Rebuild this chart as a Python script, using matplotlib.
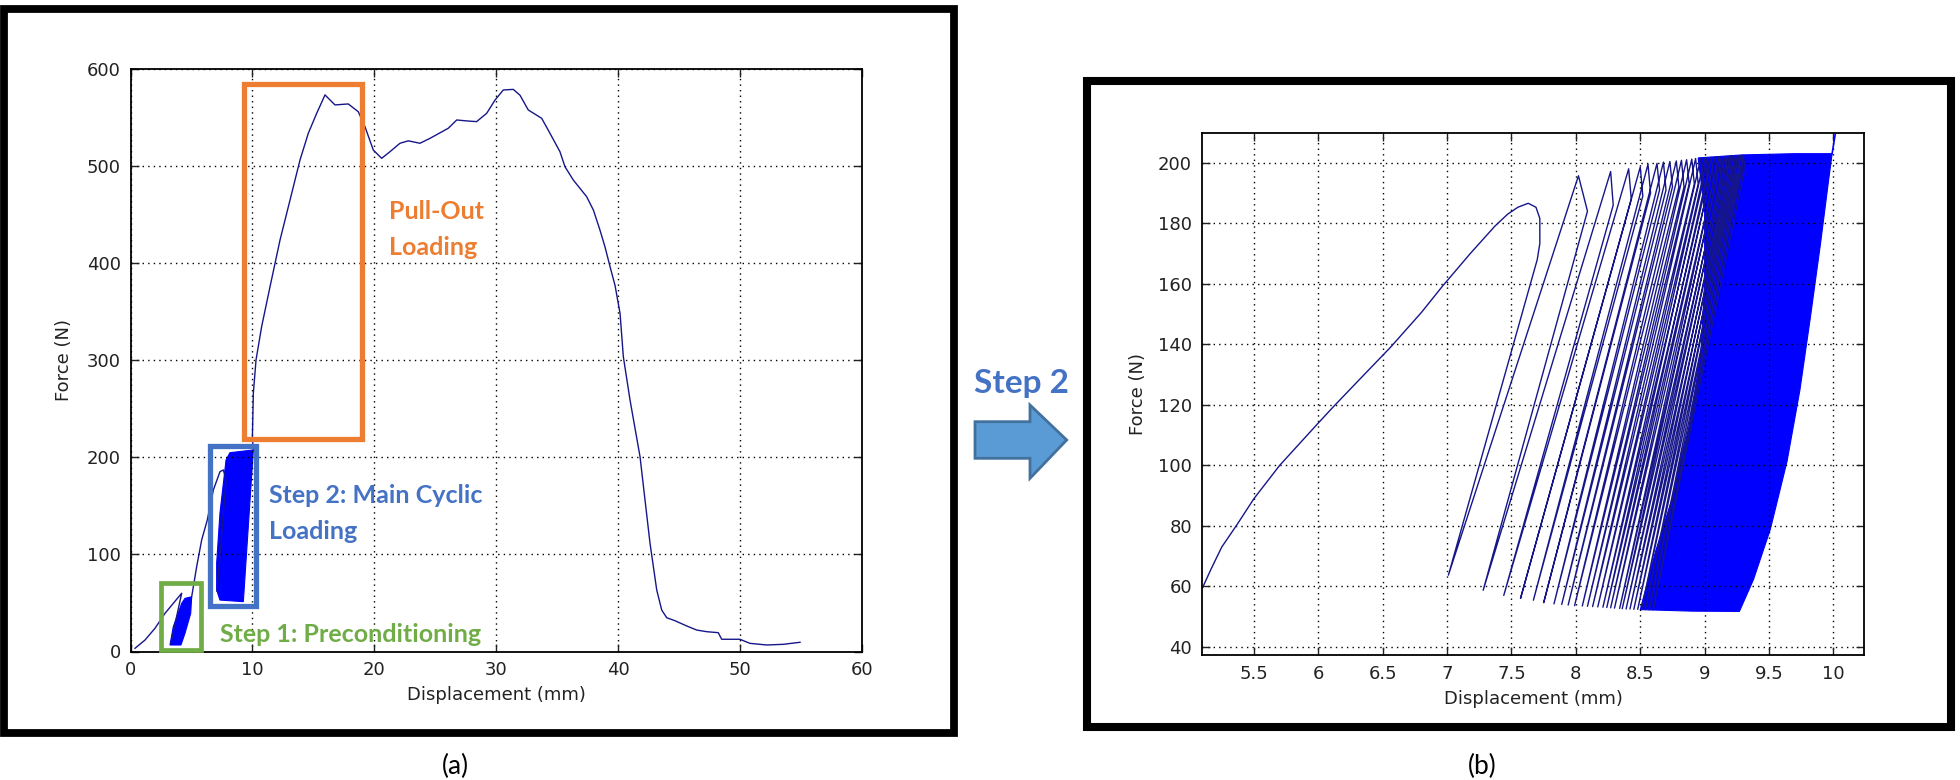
import matplotlib
matplotlib.use("Agg")
import matplotlib.pyplot as plt
import matplotlib.patches as mpatches
import matplotlib.transforms as mtransforms

W, H = 1960, 780

# ---------------- panel (a): whole test ----------------
a_rise_x = [0.37, 1.19, 2.01, 2.83, 3.51, 4.2, 3.3]
a_rise_y = [3.3, 11.8, 23.9, 39.3, 49.6, 60.0, 8.0]
# preconditioning cycles (solid blue patch outline)
a_pre_x = [3.24, 3.51, 4.2, 4.47, 5.02, 4.94, 4.47, 4.14]
a_pre_y = [6.7, 25.5, 49.6, 54.7, 56.4, 39.3, 18.7, 6.7]
a_mid_x = [5.02, 5.43, 5.84, 6.3, 6.8, 7.34, 7.62, 7.84, 7.1]
a_mid_y = [56.4, 87.4, 114.9, 135.5, 166.4, 185.2, 187.0, 176.7, 62.0]
# main cyclic loading (solid blue patch outline)
a_cyc_x = [7.07, 7.34, 9.26, 10.08, 8.16, 7.84, 7.34, 7.07]
a_cyc_y = [63.4, 53.0, 51.3, 207.6, 204.8, 197.3, 142.4, 90.9]
# pull-out
a_pull_x = [10.08, 10.0, 10.08, 10.3, 10.76, 11.45, 12.27, 13.09, 13.91, 14.59, 15.28,
            15.96, 16.78, 17.87, 18.69, 19.24, 19.92, 20.61, 21.29, 22.11, 22.8, 23.75,
            24.58, 26.08, 26.77, 27.6, 28.4, 29.23, 29.91, 30.59, 31.41, 31.96, 32.64,
            33.74, 34.42, 35.24, 35.65, 36.33, 37.43, 37.98, 38.52, 38.93, 39.35, 39.76,
            40.17, 40.44, 40.99, 41.81, 42.22, 42.63, 43.18, 43.59, 44.0, 44.68, 45.64,
            46.46, 47.28, 48.23, 48.51, 50.01, 50.83, 52.2, 53.57, 54.94]
a_pull_y = [207.6, 220.0, 266.0, 300.3, 334.6, 375.8, 423.9, 465.0, 506.3, 533.8, 554.4,
            573.3, 563.0, 564.0, 556.0, 540.6, 516.6, 508.0, 514.8, 523.5, 526.0, 523.5,
            528.6, 539.0, 547.5, 546.5, 545.8, 554.4, 568.0, 578.4, 579.0, 573.0, 557.8,
            549.2, 533.8, 514.8, 499.4, 485.7, 468.5, 454.8, 434.2, 417.0, 396.4, 377.0,
            348.4, 303.7, 259.0, 200.7, 156.0, 111.5, 63.4, 42.7, 34.8, 31.7, 26.3,
            22.1, 20.4, 19.4, 12.6, 12.6, 8.4, 6.7, 7.4, 9.5]

a_xticks = [0, 10, 20, 30, 40, 50, 60]
a_yticks = [0, 100, 200, 300, 400, 500, 600]

# ---------------- panel (b): step 2 zoom ----------------
b_init_x = [5.1, 5.17, 5.25, 5.37, 5.5, 5.6, 5.7, 5.85, 6.0, 6.12, 6.3, 6.56, 6.8, 6.96,
            7.18, 7.37, 7.47, 7.55, 7.63, 7.69, 7.72, 7.72, 7.70]
b_init_y = [59.5, 66.0, 73.0, 80.5, 89.0, 94.5, 100.0, 107.0, 114.0, 119.5, 127.5, 139.0,
            150.5, 159.0, 170.0, 179.0, 183.0, 185.3, 186.6, 185.3, 181.6, 173.3, 168.0]
b_valley_x = [7.01, 7.28, 7.44, 7.57, 7.67, 7.75, 7.83, 7.89, 7.94, 7.99, 8.05, 8.09,
              8.13, 8.17, 8.21, 8.24, 8.27, 8.30, 8.34, 8.36, 8.39, 8.42, 8.45, 8.48,
              8.51, 8.54, 8.57, 8.60]
b_valley_y = [63.7, 58.7, 57.0, 56.0, 55.4, 54.6, 54.2, 54.0, 53.8, 53.6, 53.5, 53.4,
              53.3, 53.2, 53.1, 53.0, 52.9, 52.8, 52.7, 52.6, 52.5, 52.5, 52.4, 52.4,
              52.3, 52.3, 52.2, 52.2]
b_peak_x = [8.02, 8.27, 8.41, 8.50, 8.56, 8.63, 8.68, 8.73, 8.78, 8.82, 8.86, 8.90,
            8.93, 8.97, 9.00, 9.02, 9.05, 9.08, 9.11, 9.13, 9.16, 9.18, 9.20, 9.22,
            9.24, 9.26, 9.28, 9.30]
b_peak_y = [195.7, 197.1, 198.0, 198.6, 199.5, 199.8, 200.2, 200.4, 200.6, 200.8, 201.0,
            201.2, 201.4, 201.5, 201.6, 201.7, 201.8, 201.9, 202.0, 202.0, 202.1, 202.2,
            202.3, 202.3, 202.4, 202.4, 202.5, 202.5]
b_hook_x = [8.09, 8.29, 8.43, 8.52, 8.58, 8.65, 8.70, 8.75, 8.80, 8.84, 8.88, 8.92,
            8.95, 8.99, 9.02, 9.04, 9.07, 9.10, 9.13, 9.15, 9.18, 9.20, 9.22, 9.24,
            9.26, 9.28, 9.30, 9.32]
b_hook_y = [184.0, 186.0, 188.0, 189.0, 190.0, 191.0, 191.0, 192.0, 192.0, 192.0, 193.0,
            193.0, 193.0, 194.0, 194.0, 194.0, 194.0, 195.0, 195.0, 195.0, 195.0, 195.0,
            195.0, 196.0, 196.0, 196.0, 196.0, 196.0]
# saturated region where the loops overlap
b_dense_x = [8.95, 9.3, 9.7, 9.99, 9.96, 9.9, 9.82, 9.74, 9.64, 9.51, 9.38, 9.27, 8.9,
             8.5, 8.62, 8.75, 8.88, 8.97, 9.0, 9.0]
b_dense_y = [201.6, 202.6, 203.0, 203.0, 193.3, 173.3, 148.5, 124.9, 101.3, 78.8, 62.3,
             51.7, 51.8, 52.3, 71.7, 89.4, 113.0, 136.7, 160.3, 183.9]
b_tail_x = [9.99, 10.02]
b_tail_y = [203.0, 211.0]

b_xticks = [5.5, 6, 6.5, 7, 7.5, 8, 8.5, 9, 9.5, 10]
b_xticklabels = ["5.5", "6", "6.5", "7", "7.5", "8", "8.5", "9", "9.5", "10"]
b_yticks = [40, 60, 80, 100, 120, 140, 160, 180, 200]

LINE = "#16168a"
FILL = "#0000ff"
ORANGE = "#ED7D31"
BLUE = "#4472C4"
GREEN = "#70AD47"

plt.rcParams["font.family"] = ["DejaVu Sans"]

fig = plt.figure(figsize=(W / 100, H / 100), dpi=100)
px = mtransforms.Affine2D().scale(1 / W, -1 / H).translate(0, 1) + fig.transFigure


def style_axes(ax, ylabelpad):
    ax.grid(True, linestyle=(0, (1, 3)), color="k", linewidth=1.0)
    ax.tick_params(direction="in", length=6, width=1, top=True, right=True,
                   labelsize=13, pad=7, colors="#222222")
    for s in ax.spines.values():
        s.set_linewidth(1.3)
    ax.set_xlabel("Displacement (mm)", fontsize=13, color="#222222", labelpad=5)
    ax.set_ylabel("Force (N)", fontsize=13, color="#222222", labelpad=ylabelpad)


# ---- (a)
ax1 = fig.add_axes([130.5 / W, 1 - 651.5 / H, 731.2 / W, 582.5 / H])
ax1.plot(a_rise_x, a_rise_y, color=LINE, lw=1.0)
ax1.fill(a_pre_x, a_pre_y, color=FILL, lw=0.8)
ax1.plot(a_mid_x, a_mid_y, color=LINE, lw=1.0)
ax1.fill(a_cyc_x, a_cyc_y, color=FILL, lw=0.8)
ax1.plot(a_pull_x, a_pull_y, color=LINE, lw=1.0)
ax1.set_xlim(0, 60)
ax1.set_ylim(0, 600)
ax1.set_xticks(a_xticks)
ax1.set_yticks(a_yticks)
style_axes(ax1, 10)

ax1.add_patch(mpatches.Rectangle((9.33, 218.6), 18.98 - 9.33, 584.4 - 218.6, fill=False,
                                 ec=ORANGE, lw=3.8, clip_on=False, zorder=5))
ax1.add_patch(mpatches.Rectangle((6.55, 47.2), 10.32 - 6.55, 211.4 - 47.2, fill=False,
                                 ec=BLUE, lw=3.8, clip_on=False, zorder=5))
ax1.add_patch(mpatches.Rectangle((2.49, 1.3), 5.78 - 2.49, 70.2 - 1.3, fill=False,
                                 ec=GREEN, lw=3.4, clip_on=False, zorder=5))

lab = dict(family="Lato", fontweight="bold", fontsize=18, va="baseline", ha="left", zorder=6)
ax1.text(21.24, 445.2, "Pull-Out", color=ORANGE, **lab)
ax1.text(21.24, 408.4, "Loading", color=ORANGE, **lab)
ax1.text(11.36, 153.3, "Step 2: Main Cyclic", color=BLUE, **lab)
ax1.text(11.36, 115.6, "Loading", color=BLUE, **lab)
ax1.text(7.34, 10.1, "Step 1: Preconditioning", color=GREEN, **lab)

# ---- (b)
ax2 = fig.add_axes([1201.7 / W, 1 - 655 / H, 662.6 / W, 521.6 / H])
bx = list(b_init_x)
by = list(b_init_y)
for i in range(len(b_valley_x)):
    bx += [b_valley_x[i], b_peak_x[i], b_hook_x[i]]
    by += [b_valley_y[i], b_peak_y[i], b_hook_y[i]]
ax2.plot(bx, by, color=LINE, lw=1.0)
ax2.fill(b_dense_x, b_dense_y, color=FILL, lw=0.8)
ax2.plot(b_tail_x, b_tail_y, color=FILL, lw=1.2)
ax2.set_xlim(5.094, 10.24)
ax2.set_ylim(37.3, 209.7)
ax2.set_xticks(b_xticks)
ax2.set_xticklabels(b_xticklabels)
ax2.set_yticks(b_yticks)
style_axes(ax2, 8)

# ---- panel frames, arrow and captions
fig.add_artist(mpatches.Rectangle((3.75, 8.7), 950, 724.3, fill=False, ec="k", lw=5.6,
                                  transform=px))
fig.add_artist(mpatches.Rectangle((1087, 81.4), 863.5, 646, fill=False, ec="k", lw=5.8,
                                  transform=px))
arrow_x = [975, 1030, 1030, 1066.7, 1030, 1030, 975]
arrow_y = [421.7, 421.7, 405, 440, 478.3, 458.3, 458.3]
fig.add_artist(mpatches.Polygon(list(zip(arrow_x, arrow_y)), closed=True, fc="#5B9BD5",
                                ec="#41719C", lw=2, transform=px))
fig.text(1021 / W, 1 - 393 / H, "Step 2", family="Lato", fontweight="bold", fontsize=24,
         color=BLUE, ha="center", va="baseline")
fig.text(455 / W, 1 - 766 / H, "(a)", family="Lato", fontsize=19, ha="center", va="center")
fig.text(1482 / W, 1 - 766 / H, "(b)", family="Lato", fontsize=19, ha="center", va="center")

fig.savefig("out.png", dpi=100, facecolor="white")
